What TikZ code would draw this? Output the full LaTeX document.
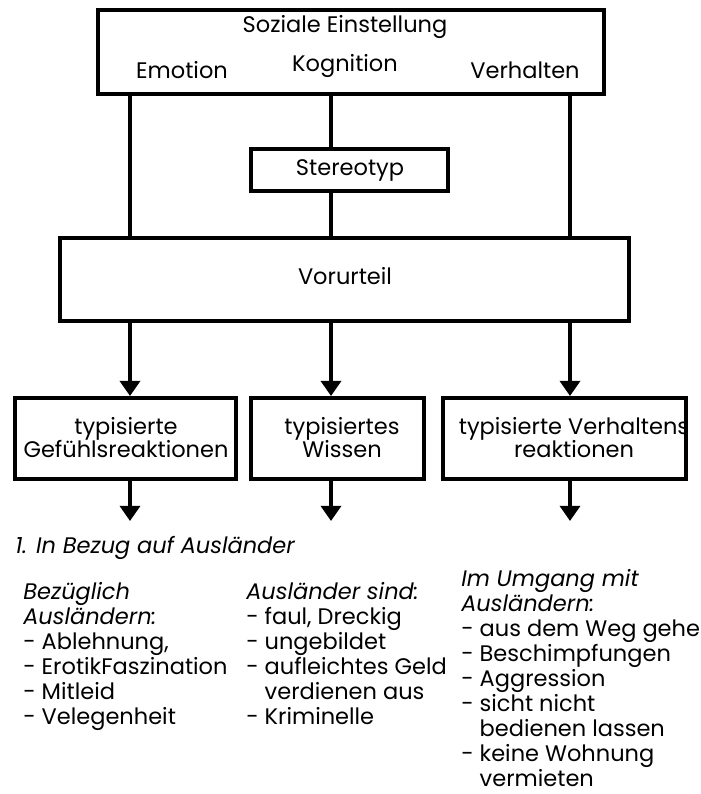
\documentclass[tikz,border=0pt]{standalone}
\usepackage{fontspec}
\setmainfont{Poppins}
\usetikzlibrary{arrows.meta}
\usetikzlibrary{fit}
\usetikzlibrary{positioning}

\tikzset{
  box/.style={draw, line width=2.8pt, inner sep=0pt},
  txt/.style={font=\fontsize{16}{16.4}\selectfont, inner sep=0pt, align=center},
  link/.style={line width=2.8pt},
  flow/.style={line width=2.8pt, -{Triangle[width=0.5cm,length=0.38cm]}},
  lst/.style={font=\fontsize{16}{17.8}\selectfont, align=left, anchor=north west, inner sep=0pt}
}

\begin{document}
\begin{tikzpicture}[x=0.025cm, y=-0.025cm]
            \useasboundingbox (0,0) rectangle (700,794);

            % Columns of the three components
            \coordinate (cE) at (130,0);
            \coordinate (cK) at (331,0);
            \coordinate (cV) at (570,0);

            % Soziale Einstellung
            \node[box, fit={(98,10) (604,94)}] (einst) {};
            \node[txt] (soz) at (345,27) {Soziale Einstellung};
            \node[txt] (emo) at (182,70) {Emotion};
            \node[txt] (kog) at (345,66) {Kognition};
            \node[txt] (verh) at (525,70) {Verhalten};

            % Stereotyp and Vorurteil
            \node[box, fit={(251,149) (448,191)}] (stereo) {};
            \node[txt] (stereotxt) at (350,170) {Stereotyp};
            \node[box, fit={(60,238) (629,321)}] (vor) {};
            \node[txt] (vortxt) at (345,276) {Vorurteil};

            % Typisierte Reaktionen
            \node[box, fit={(15,398) (236,479)}] (gef) {};
            \node[txt] (geftxt) at (126,438) {typisierte\\Gefühlsreaktionen};
            \node[box, fit={(251,398) (424,479)}] (wis) {};
            \node[txt] (wistxt) at (342,438) {typisiertes\\Wissen};
            \node[box, fit={(443,398) (686,479)}] (rea) {};
            \node[txt] (reatxt) at (574,438) {typisierte Verhaltens\\reaktionen};

            % Lines from the top box
            \draw[link] (einst.south -| cE) -- (vor.north -| cE);
            \draw[link] (einst.south -| cK) -- (stereo.north -| cK);
            \draw[link] (stereo.south -| cK) -- (vor.north -| cK);
            \draw[link] (einst.south -| cV) -- (vor.north -| cV);

            % Arrows to the reactions
            \draw[flow] (vor.south -| cE) -- (gef.north -| cE);
            \draw[flow] (vor.south -| cK) -- (wis.north -| cK);
            \draw[flow] (vor.south -| cV) -- (rea.north -| cV);

            % Arrows out of the reactions
            \coordinate (oE) at (130,521);
            \coordinate (oK) at (331,521);
            \coordinate (oV) at (570,521);
            \draw[flow] (gef.south -| cE) -- (oE);
            \draw[flow] (wis.south -| cK) -- (oK);
            \draw[flow] (rea.south -| cV) -- (oV);

            % Examples
            \node[lst] (head) at (15,536) {\itshape 1. In Bezug auf Ausländer};
            \node[lst] (emolist) at (23,582) {\textit{Bezüglich}\\\textit{Ausländern:}\\- Ablehnung,\\- ErotikFaszination\\- Mitleid\\- Velegenheit};
            \node[lst] (koglist) at (246,582) {\textit{Ausländer sind:}\\- faul, Dreckig\\- ungebildet\\- aufleichtes Geld\\\phantom{- }verdienen aus\\- Kriminelle};
            \node[lst] (verhlist) at (461,569) {\textit{Im Umgang mit}\\\textit{Ausländern:}\\- aus dem Weg gehe\\- Beschimpfungen\\- Aggression\\- sicht nicht\\\phantom{- }bedienen lassen\\- keine Wohnung\\\phantom{- }vermieten};

        \end{tikzpicture}
\end{document}
